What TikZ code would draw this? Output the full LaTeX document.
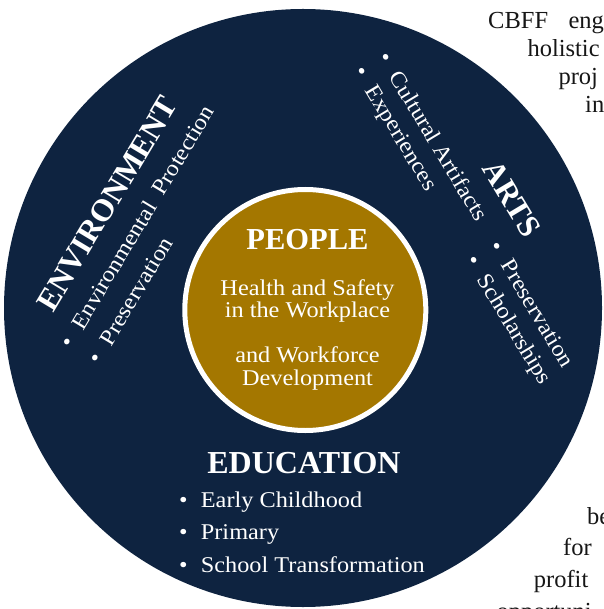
\documentclass[tikz,border=0pt]{standalone}
\usepackage{fontspec}
\setmainfont{Liberation Serif}
\newfontfamily\bodyfont{Liberation Serif}[FakeStretch=1.08]
\definecolor{navy}{RGB}{14,35,64}
\definecolor{gold}{RGB}{164,119,0}
\definecolor{ink}{RGB}{22,22,22}
% bullet hung to the left of an item's first letter
\newcommand{\itembul}{\llap{\textbullet\hspace{13.2pt}}}

\begin{document}
\begin{tikzpicture}[x=1pt,y=-1pt,
  headtext/.style={text=white, inner sep=0pt,
    font=\fontsize{31.5}{36}\selectfont\bfseries},
  itemtext/.style={text=white, inner sep=0pt, anchor=base west,
    font=\bodyfont\fontsize{22.5}{27}\selectfont},
  coretext/.style={text=white, inner sep=0pt, anchor=base,
    font=\bodyfont\fontsize{22.5}{27}\selectfont},
  pagetext/.style={text=ink, inner sep=0pt, anchor=base west,
    font=\fontsize{24.5}{28}\selectfont},
]
\useasboundingbox (0,0) rectangle (603,609);
\clip (0,0) rectangle (603,609);

% outer navy disc and the gold core with its white rim
\node[circle, fill=navy, minimum size=598pt, inner sep=0pt] (outer) at (303,308) {};
\node[circle, fill=gold, draw=white, line width=5pt, minimum size=241pt, inner sep=0pt] (core) at (305.3,310) {};

% core
\node[headtext, anchor=base, font=\fontsize{30.5}{36}\selectfont\bfseries] (peopleH) at (307.5,250) {PEOPLE};
\node[coretext] (people1) at (307.5,295) {Health and Safety};
\node[coretext] (people2) at (307.5,317.5) {in the Workplace};
\node[coretext] (people3) at (307.5,362.5) {and Workforce};
\node[coretext] (people4) at (307.5,385) {Development};

% education, bottom
\node[headtext, anchor=base, font=\fontsize{32}{36}\selectfont\bfseries] (eduH) at (304,473.3) {EDUCATION};
\node[itemtext] (edu1) at (200.7,507.3) {\itembul Early Childhood};
\node[itemtext] (edu2) at (200.7,539.8) {\itembul Primary};
\node[itemtext] (edu3) at (200.7,572.8) {\itembul School Transformation};

% environment, upper left, reading upwards
\begin{scope}[shift={(53.3,313.3)}, rotate=59, transform shape]
  \node[headtext, anchor=base west] (envH) at (0,0) {ENVIRONMENT};
  \node[itemtext] (env1) at (0,34.7) {\itembul Environmental\hspace{6pt} Protection};
  \node[itemtext] (env2) at (0.6,66.9) {\itembul Preservation};
\end{scope}

% arts, upper right, reading downwards
\begin{scope}[shift={(481.7,168.4)}, rotate=-59, transform shape]
  \node[headtext, anchor=base west] (artsH) at (0,0) {ARTS};
  \node[itemtext] (arts1) at (-127.2,32.5) {\itembul Cultural Artifacts};
  \node[itemtext] (arts2) at (-127.2,60) {\itembul Experiences};
  \node[itemtext] (arts3) at (92,34) {\itembul Preservation};
  \node[itemtext] (arts4) at (92.5,61.5) {\itembul Scholarships};
\end{scope}

% running text beside the disc
\node[pagetext] (p1a) at (488,28.3) {CBFF};
\node[pagetext] (p1b) at (568.3,28.3) {eng};
\node[pagetext] (p2) at (527.3,56.7) {holistic};
\node[pagetext] (p3) at (558.3,84.5) {proj};
\node[pagetext] (p4) at (585,113) {in};
\node[pagetext] (p5) at (587,524.3) {be};
\node[pagetext] (p6) at (563,555.7) {for};
\node[pagetext] (p7) at (533.7,587.3) {profit};
\node[pagetext] (p8) at (496.3,619) {opportuni};
\end{tikzpicture}
\end{document}
